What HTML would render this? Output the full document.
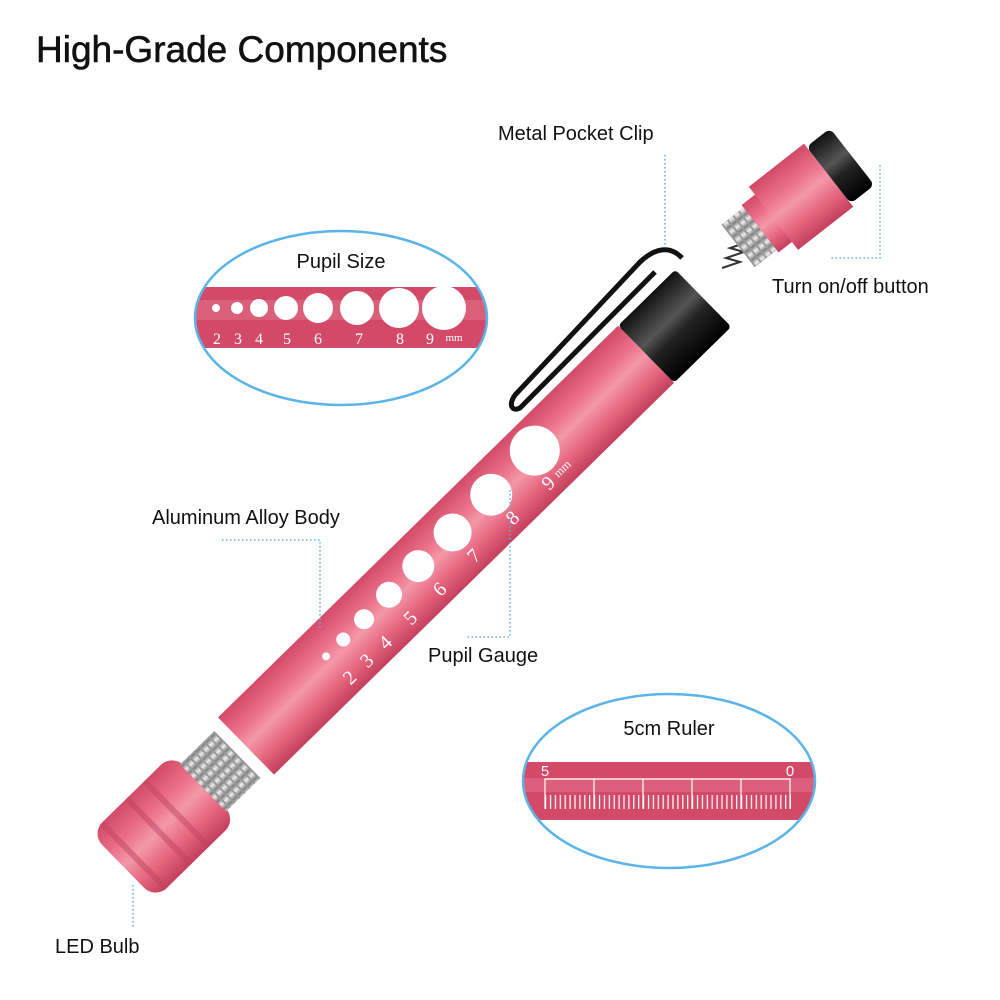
<!DOCTYPE html>
<html><head><meta charset="utf-8"><style>
body{margin:0;background:#fff;}
svg{display:block;font-family:"Liberation Sans",sans-serif;}
</style></head><body>
<svg width="1000" height="1000" viewBox="0 0 1000 1000">
<defs>
<linearGradient id="pk" x1="0" y1="0" x2="0" y2="1">
<stop offset="0" stop-color="#d24a67"/><stop offset="0.3" stop-color="#ec7089"/><stop offset="0.5" stop-color="#f398a8"/><stop offset="0.75" stop-color="#e6667f"/><stop offset="1" stop-color="#c43f5c"/>
</linearGradient>
<linearGradient id="bk" x1="0" y1="0" x2="0" y2="1">
<stop offset="0" stop-color="#111"/><stop offset="0.4" stop-color="#555"/><stop offset="0.6" stop-color="#222"/><stop offset="1" stop-color="#000"/>
</linearGradient>
<linearGradient id="gr" x1="0" y1="0" x2="0" y2="1">
<stop offset="0" stop-color="#888"/><stop offset="0.45" stop-color="#eee"/><stop offset="1" stop-color="#777"/>
</linearGradient>
<pattern id="thr" width="7" height="10" patternUnits="userSpaceOnUse">
<rect width="7" height="10" fill="url(#gr)"/><rect width="2" height="10" fill="#999"/>
</pattern>
<pattern id="tk" x="545" y="0" width="4.9" height="10" patternUnits="userSpaceOnUse">
<rect x="0" width="1.2" height="10" fill="#fff"/>
</pattern>
<clipPath id="e1"><ellipse cx="341" cy="318" rx="145" ry="86"/></clipPath>
<clipPath id="e2"><ellipse cx="669" cy="781" rx="145" ry="86"/></clipPath>
</defs>

<text x="36" y="62" font-size="37" fill="#111" stroke="#111" stroke-width="0.6">High-Grade Components</text>

<!-- pupil ellipse -->
<g clip-path="url(#e1)">
<rect x="190" y="287" width="300" height="61" fill="#d24a67"/>
<rect x="190" y="300" width="300" height="20" fill="#e06f86" opacity="0.6"/>
</g>
<ellipse cx="341" cy="318" rx="146" ry="87" fill="none" stroke="#5ab4e8" stroke-width="2.5"/>
<text x="341" y="268" font-size="20" text-anchor="middle" fill="#111">Pupil Size</text>
<g fill="#fff">
<circle cx="216" cy="308" r="4"/><circle cx="237" cy="308" r="6"/><circle cx="259" cy="308" r="9"/><circle cx="286" cy="308" r="12"/><circle cx="318" cy="308" r="15"/><circle cx="357" cy="308" r="17"/><circle cx="399" cy="308" r="20"/><circle cx="444" cy="308" r="22"/>
</g>
<g fill="#fff" font-family="Liberation Serif,serif" font-size="16" text-anchor="middle">
<text x="217" y="344">2</text><text x="238" y="344">3</text><text x="259" y="344">4</text><text x="287" y="344">5</text><text x="318" y="344">6</text><text x="359" y="344">7</text><text x="400" y="344">8</text><text x="430" y="344">9</text><text x="454" y="341" font-size="11">mm</text>
</g>

<!-- ruler ellipse -->
<g clip-path="url(#e2)">
<rect x="520" y="762" width="300" height="58" fill="#d24a67"/>
<rect x="520" y="778" width="300" height="14" fill="#e27088" opacity="0.6"/>
</g>
<ellipse cx="669" cy="781" rx="146" ry="87" fill="none" stroke="#5ab4e8" stroke-width="2.5"/>
<text x="669" y="735" font-size="20" text-anchor="middle" fill="#111">5cm Ruler</text>
<g stroke="#fff" stroke-width="1.2" fill="none">
<path d="M545,809 V779 H790 V809 M594,779 V809 M643,779 V809 M692,779 V809 M741,779 V809"/>
</g>
<rect x="545" y="795" width="246" height="14" fill="url(#tk)"/>
<text x="545" y="776" font-size="15" fill="#fff" text-anchor="middle">5</text>
<text x="790" y="776" font-size="15" fill="#fff" text-anchor="middle">0</text>

<!-- pen body -->
<g transform="translate(246,746) rotate(-44.4)">
<rect x="-172" y="-46" width="114" height="92" rx="16" fill="url(#pk)"/>
<rect x="-160" y="-46" width="6" height="92" fill="#c04460" opacity="0.5"/>
<rect x="-125" y="-46" width="6" height="92" fill="#c04460" opacity="0.5"/>
<rect x="-100" y="-46" width="6" height="92" fill="#c04460" opacity="0.5"/>
<rect x="-60" y="-33" width="48" height="66" fill="url(#thr)"/>
<rect x="0" y="-40" width="560" height="80" fill="url(#pk)"/>
<rect x="560" y="-40" width="80" height="80" rx="4" fill="url(#bk)"/>
<g fill="#fff">
<circle cx="120" cy="-8" r="4"/><circle cx="144" cy="-8" r="7"/><circle cx="173" cy="-8" r="10"/><circle cx="208" cy="-8" r="13"/><circle cx="249" cy="-8" r="16"/><circle cx="297" cy="-8" r="19"/><circle cx="351" cy="-8" r="21"/><circle cx="413" cy="-9" r="25"/>
</g>
<g fill="#fff" font-family="Liberation Serif,serif" font-size="20" text-anchor="middle">
<text x="122" y="30">2</text><text x="146" y="30">3</text><text x="172" y="30">4</text><text x="207" y="30">5</text><text x="248" y="30">6</text><text x="296" y="30">7</text><text x="350" y="30">8</text><text x="400" y="30">9</text><text x="420" y="27" font-size="12">mm</text>
</g>
</g>
<!-- clip -->
<path d="M682,258 C670,245 655,248 640,262 L515,395 C508,405 512,412 520,408 L655,272" fill="none" stroke="#111" stroke-width="5" stroke-linejoin="round"/>

<!-- spring -->
<path d="M722,268 l18,-6 l-14,-4 l18,-6 l-14,-4 l18,-6 l-14,-4" fill="none" stroke="#333" stroke-width="2"/>
<!-- top cap -->
<g transform="translate(738,246) rotate(-38)">
<rect x="0" y="-27" width="40" height="54" fill="url(#thr)"/>
<rect x="28" y="-30" width="20" height="60" fill="url(#pk)"/>
<rect x="45" y="-40" width="70" height="80" fill="url(#pk)"/>
<rect x="115" y="-36" width="30" height="72" rx="6" fill="url(#bk)"/>
</g>

<!-- leaders -->
<g stroke="#5ab4e8" stroke-width="1.5" stroke-dasharray="1.5 2.5" fill="none">
<path d="M665,155 V245"/>
<path d="M880,165 V258 H830"/>
<path d="M222,540 H320 V630"/>
<path d="M510,490 V637 H465"/>
<path d="M133,885 V928"/>
</g>
<g font-size="20" fill="#111">
<text x="498" y="140">Metal Pocket Clip</text>
<text x="772" y="293">Turn on/off button</text>
<text x="152" y="524">Aluminum Alloy Body</text>
<text x="428" y="662">Pupil Gauge</text>
<text x="55" y="953">LED Bulb</text>
</g>
</svg>
</body></html>
